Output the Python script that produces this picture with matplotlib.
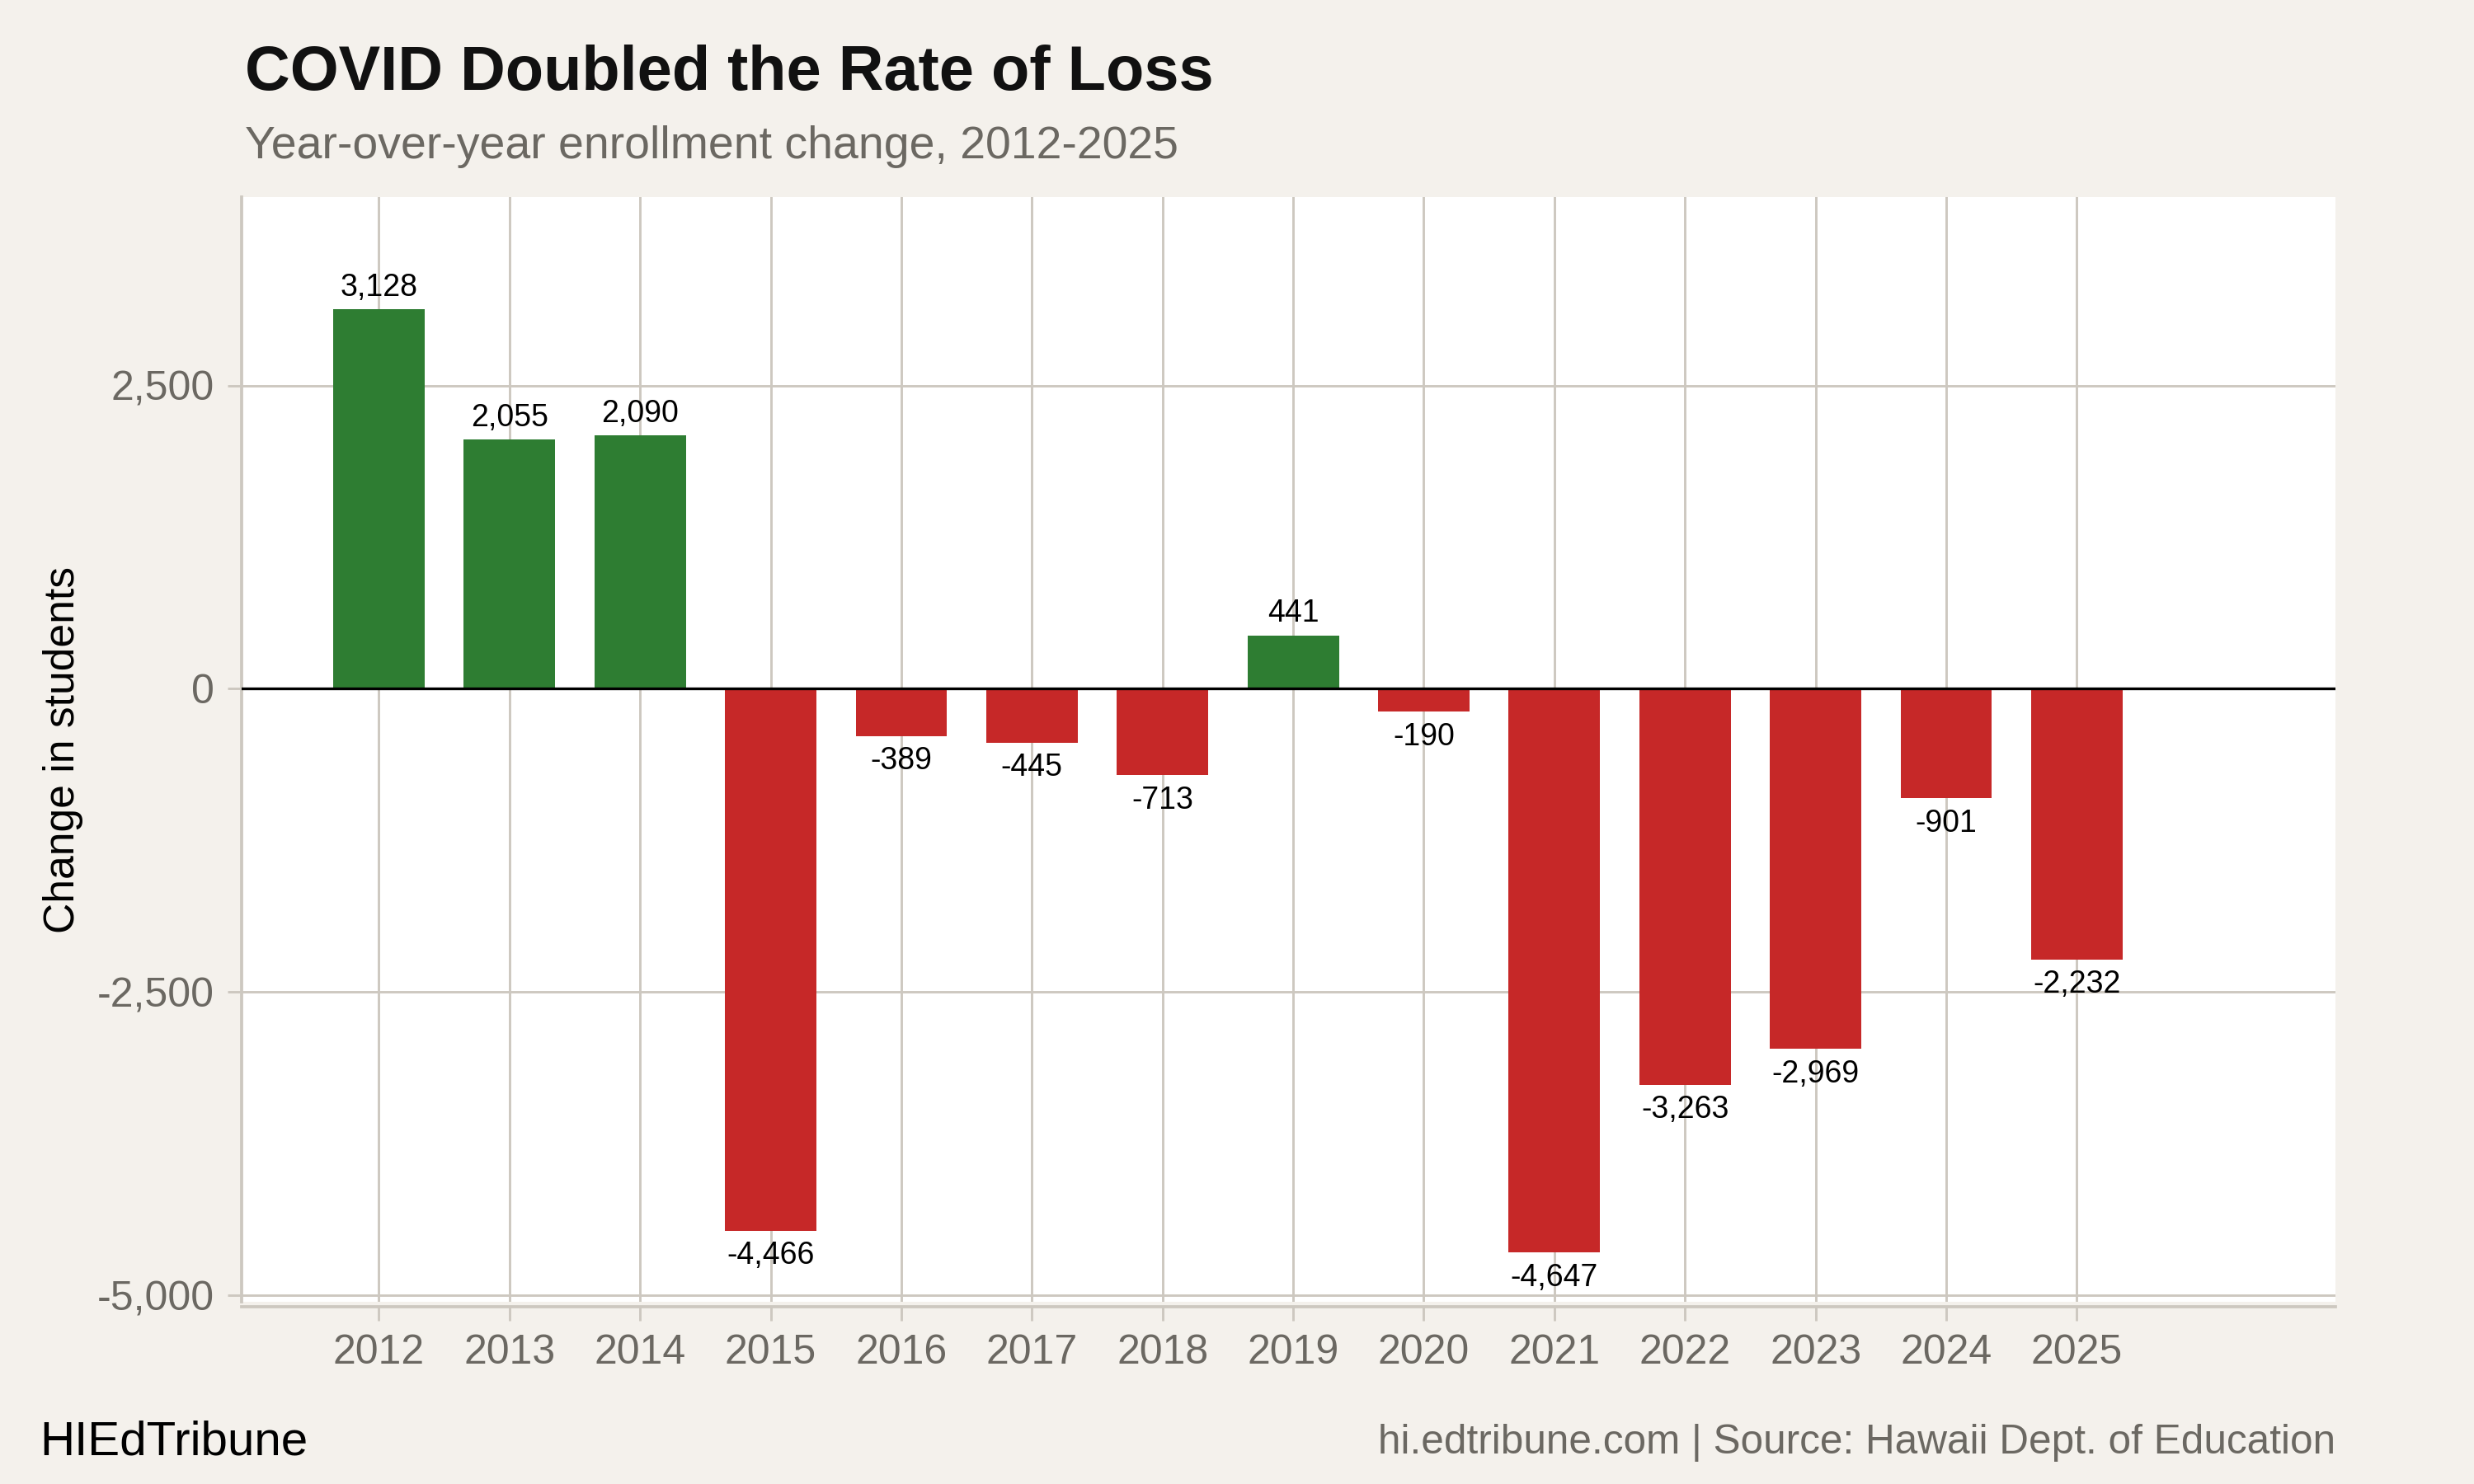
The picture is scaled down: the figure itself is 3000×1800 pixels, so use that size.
import numpy as np
import matplotlib.pyplot as plt
from matplotlib.ticker import FuncFormatter

# Data
years = [2012, 2013, 2014, 2015, 2016, 2017, 2018, 2019, 2020, 2021, 2022, 2023, 2024, 2025]
change = [3128, 2055, 2090, -4466, -389, -445, -713, 441, -190, -4647, -3263, -2969, -901, -2232]
y_ticks = [-5000, -2500, 0, 2500]

BG = "#f4f1ec"
GRID = "#cdc8c0"
GREEN = "#2e7d32"
RED = "#c62828"
GRAY_TXT = "#6b6862"

plt.rcParams["font.family"] = ["Liberation Sans", "DejaVu Sans"]

fig = plt.figure(figsize=(10, 6), dpi=300, facecolor=BG)
ax = fig.add_axes([0.0977, 0.123, 0.8463, 0.744])
ax.set_facecolor("white")

colors = [GREEN if v > 0 else RED for v in change]
ax.bar(years, change, width=0.7, color=colors, zorder=3)
ax.axhline(0, color="black", lw=0.8, zorder=4)

for x, v in zip(years, change):
    if v > 0:
        ax.annotate(f"{v:,}", (x, v), xytext=(0, 2), textcoords="offset points",
                    ha="center", va="bottom", fontsize=9, color="black", zorder=5)
    else:
        ax.annotate(f"{v:,}", (x, v), xytext=(0, -3), textcoords="offset points",
                    ha="center", va="top", fontsize=9, color="black", zorder=5)

ax.set_xlim(2010.95, 2026.98)
ax.set_ylim(-5050, 4050)
ax.set_xticks(years)
ax.set_yticks(y_ticks)
ax.yaxis.set_major_formatter(FuncFormatter(lambda v, p: f"{int(v):,}"))
ax.grid(True, color=GRID, lw=0.7, zorder=0)
ax.tick_params(axis="both", colors=GRID, labelcolor=GRAY_TXT, labelsize=12, length=4, width=0.7)
ax.tick_params(axis="x", pad=4)
ax.tick_params(axis="y", pad=4)

for side in ["top", "right"]:
    ax.spines[side].set_visible(False)
for side in ["left", "bottom"]:
    ax.spines[side].set_color(GRID)
    ax.spines[side].set_linewidth(0.9)
ax.spines["bottom"].set_position(("outward", 1.5))

ax.set_ylabel("Change in students", fontsize=12.4, color="black", labelpad=4)

fig.text(0.099, 0.950, "COVID Doubled the Rate of Loss", fontsize=18.2, fontweight="bold",
         color="#111111", va="center", ha="left")
fig.text(0.099, 0.901, "Year-over-year enrollment change, 2012-2025", fontsize=13.3,
         color=GRAY_TXT, va="center", ha="left")
fig.text(0.016, 0.028, "HIEdTribune", fontsize=14, color="black", va="center", ha="left")
fig.text(0.944, 0.028, "hi.edtribune.com | Source: Hawaii Dept. of Education", fontsize=11.9,
         color=GRAY_TXT, va="center", ha="right")

fig.savefig("out.png", dpi=300, facecolor=BG)
